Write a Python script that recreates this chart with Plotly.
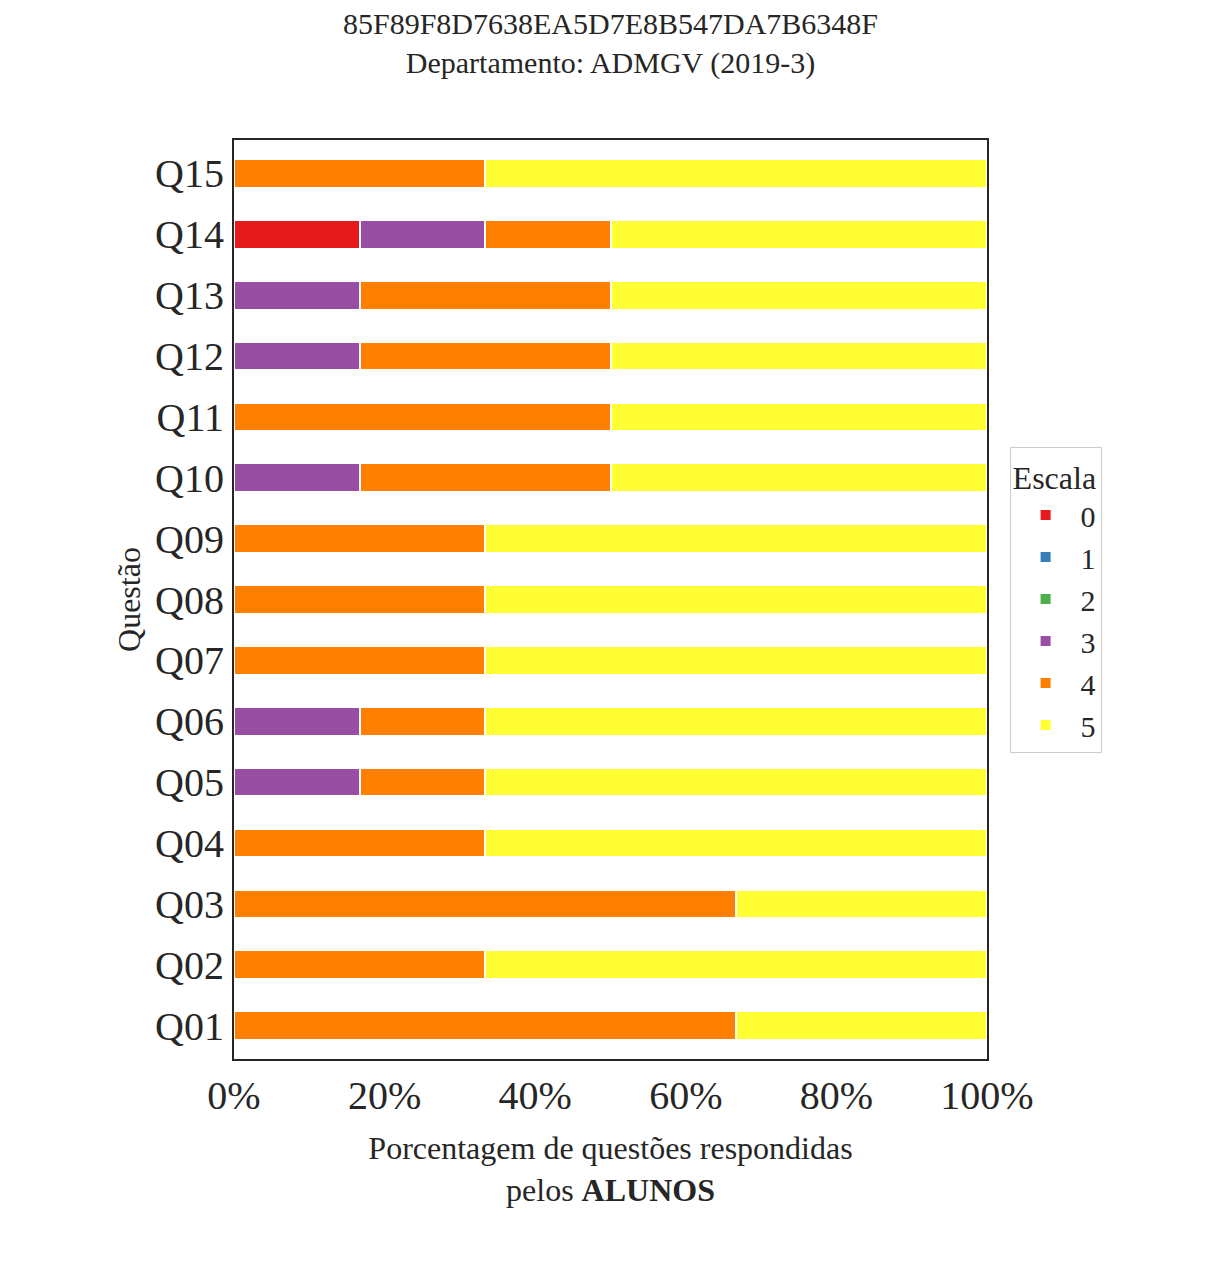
import plotly.graph_objects as go

questions = [f"Q{i:02d}" for i in range(1, 16)]
s = 100/6
scale0 = [0,0,0,0,0,0,0,0,0,0,0,0,0,s,0]
scale1 = [0]*15
scale2 = [0]*15
scale3 = [0,0,0,0,s,s,0,0,0,s,0,s,s,s,0]
scale4 = [4*s,2*s,4*s,2*s,s,s,2*s,2*s,2*s,2*s,3*s,2*s,2*s,s,2*s]
scale5 = [2*s,4*s,2*s,4*s,4*s,4*s,4*s,4*s,4*s,3*s,3*s,3*s,3*s,3*s,4*s]
series = [("0", scale0, "#e41a1c"), ("1", scale1, "#377eb8"), ("2", scale2, "#4daf4a"),
          ("3", scale3, "#984ea3"), ("4", scale4, "#ff7f00"), ("5", scale5, "#ffff33")]

fig = go.Figure()
for name, vals, col in series:
    fig.add_trace(go.Bar(y=questions, x=vals, name=name, orientation="h",
                         marker=dict(color=col, line=dict(color="white", width=2)),
                         width=0.47))
font = "Liberation Serif, Times New Roman, serif"
fig.update_layout(
    barmode="stack", width=1213, height=1275, plot_bgcolor="white", paper_bgcolor="white",
    font=dict(family=font, color="#262626"),
    margin=dict(l=226, r=234, t=132, b=224),
    title=dict(text="85F89F8D7638EA5D7E8B547DA7B6348F<br>Departamento: ADMGV (2019-3)",
               x=0.5, xanchor="center", xref="paper", y=0.98, yanchor="top", font=dict(size=30)),
    xaxis=dict(range=[0, 100], tickvals=[0,20,40,60,80,100],
               ticktext=["0%","20%","40%","60%","80%","100%"], tickfont=dict(size=40),
               showgrid=False, zeroline=False, showline=True, mirror=True, linecolor="#262626", linewidth=2,
               title=dict(text="Porcentagem de questões respondidas<br>pelos <b>ALUNOS</b>", font=dict(size=32), standoff=20)),
    yaxis=dict(range=[-0.55, 14.55], tickfont=dict(size=40), showgrid=False,
               showline=True, mirror=True, linecolor="#262626", linewidth=2,
               title=dict(text="Questão", font=dict(size=32), standoff=5)),
    legend=dict(title=dict(text="Escala", font=dict(size=32)), traceorder="normal",
                x=1.03, y=0.5, xanchor="left", yanchor="middle", font=dict(size=30),
                bordercolor="#cccccc", borderwidth=1, itemwidth=60, tracegroupgap=10),
)
fig.write_html("out.html")
